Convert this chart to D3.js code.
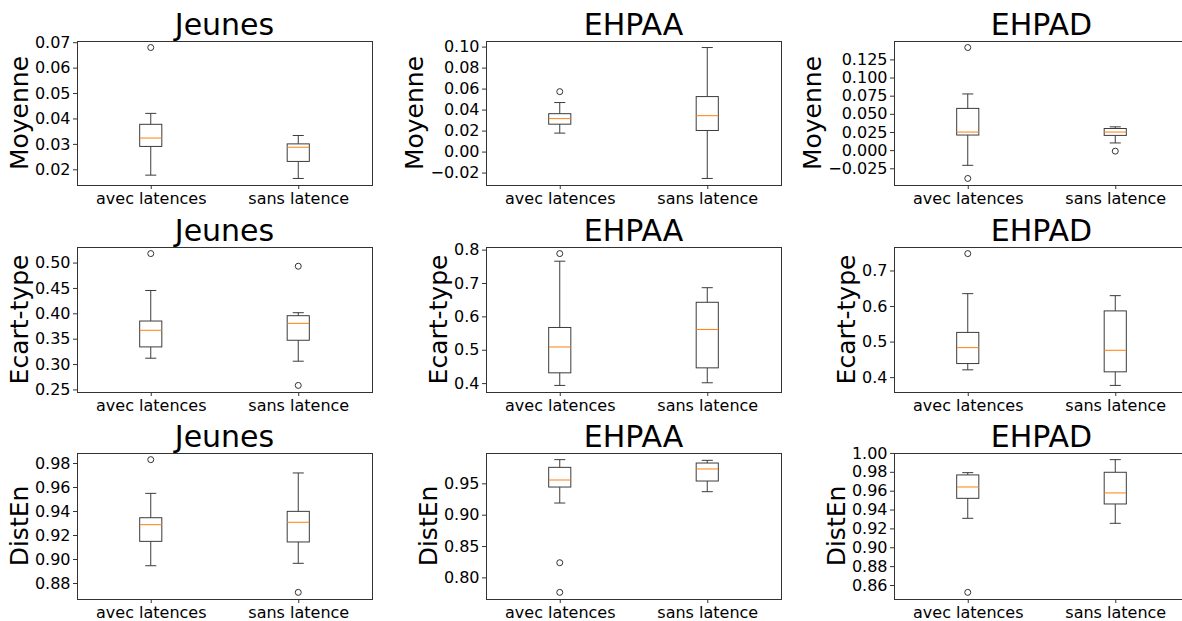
<!DOCTYPE html>
<html>
<head>
<meta charset="utf-8">
<script src="https://cdn.jsdelivr.net/npm/d3@7"></script>
<style>
  html, body { margin: 0; padding: 0; background: #fff; overflow: hidden; }
  svg { display: block; font-family: "DejaVu Sans", sans-serif; }
</style>
</head>
<body>
<svg id="chart" width="1182" height="621"></svg>
<script>
// ---------- data ----------
const groups = ["Jeunes", "EHPAA", "EHPAD"];
const metrics = ["Moyenne", "Ecart-type", "DistEn"];
const categories = ["avec latences", "sans latence"];

// each box: [lower whisker, Q1, median, Q3, upper whisker]
const moyenneJeunes = [[0.0177, 0.0290, 0.0323, 0.0377, 0.0420], [0.0164, 0.0231, 0.0287, 0.0300, 0.0333]];
const moyenneJeunesFliers = [[0.0679], []];
const moyenneEHPAA = [[0.0176, 0.0261, 0.0314, 0.0361, 0.0467], [-0.0256, 0.0201, 0.0342, 0.0524, 0.0991]];
const moyenneEHPAAFliers = [[0.0571], []];
const moyenneEHPAD = [[-0.0209, 0.0208, 0.0249, 0.0575, 0.0774], [0.0099, 0.0203, 0.0249, 0.0298, 0.0321]];
const moyenneEHPADFliers = [[0.1413, -0.0390], [-0.0014]];

const ecartJeunes = [[0.3115, 0.3338, 0.3665, 0.3848, 0.4450], [0.3056, 0.3469, 0.3802, 0.3953, 0.4012]];
const ecartJeunesFliers = [[0.5177], [0.4928, 0.2579]];
const ecartEHPAA = [[0.3931, 0.4308, 0.5082, 0.5667, 0.7653], [0.4010, 0.4457, 0.5608, 0.6422, 0.6859]];
const ecartEHPAAFliers = [[0.7881], []];
const ecartEHPAD = [[0.4205, 0.4382, 0.4829, 0.5258, 0.6348], [0.3767, 0.4149, 0.4755, 0.5863, 0.6292]];
const ecartEHPADFliers = [[0.7475], []];

const distEnJeunes = [[0.8944, 0.9147, 0.9286, 0.9344, 0.9547], [0.8964, 0.9142, 0.9306, 0.9397, 0.9717]];
const distEnJeunesFliers = [[0.9828], [0.8722]];
const distEnEHPAA = [[0.9186, 0.9441, 0.9553, 0.9755, 0.9878], [0.9367, 0.9537, 0.9729, 0.9824, 0.9867]];
const distEnEHPAAFliers = [[0.8234, 0.7761], []];
const distEnEHPAD = [[0.9307, 0.9519, 0.9639, 0.9767, 0.9791], [0.9254, 0.9459, 0.9576, 0.9795, 0.9929]];
const distEnEHPADFliers = [[0.8522], []];

// tick labels
const ticksMoyenneJeunes = ["0.02", "0.03", "0.04", "0.05", "0.06", "0.07"];
const ticksMoyenneEHPAA = ["\u22120.02", "0.00", "0.02", "0.04", "0.06", "0.08", "0.10"];
const ticksMoyenneEHPAD = ["\u22120.025", "0.000", "0.025", "0.050", "0.075", "0.100", "0.125"];
const ticksEcartJeunes = ["0.25", "0.30", "0.35", "0.40", "0.45", "0.50"];
const ticksEcartEHPAA = ["0.4", "0.5", "0.6", "0.7", "0.8"];
const ticksEcartEHPAD = ["0.4", "0.5", "0.6", "0.7"];
const ticksDistEnJeunes = ["0.88", "0.90", "0.92", "0.94", "0.96", "0.98"];
const ticksDistEnEHPAA = ["0.80", "0.85", "0.90", "0.95"];
const ticksDistEnEHPAD = ["0.86", "0.88", "0.90", "0.92", "0.94", "0.96", "0.98", "1.00"];

const panelBoxes = [
  [moyenneJeunes, moyenneEHPAA, moyenneEHPAD],
  [ecartJeunes, ecartEHPAA, ecartEHPAD],
  [distEnJeunes, distEnEHPAA, distEnEHPAD]
];
const panelFliers = [
  [moyenneJeunesFliers, moyenneEHPAAFliers, moyenneEHPADFliers],
  [ecartJeunesFliers, ecartEHPAAFliers, ecartEHPADFliers],
  [distEnJeunesFliers, distEnEHPAAFliers, distEnEHPADFliers]
];
const panelTicks = [
  [ticksMoyenneJeunes, ticksMoyenneEHPAA, ticksMoyenneEHPAD],
  [ticksEcartJeunes, ticksEcartEHPAA, ticksEcartEHPAD],
  [ticksDistEnJeunes, ticksDistEnEHPAA, ticksDistEnEHPAD]
];

// ---------- layout ----------
const colLeft = [77, 486, 894];
const rowTop = [41, 247, 453];
const rowH = [144, 145, 146];
const W = 295;
const lineColor = "#333";
const boxColor = "#3c3c3c";
const medianColor = "#ff7f0e";

const svg = d3.select("#chart");

for (let r = 0; r < 3; r++) {
  for (let c = 0; c < 3; c++) {
    const H = rowH[r];
    const boxes = panelBoxes[r][c];
    const fliers = panelFliers[r][c];
    const tickLabels = panelTicks[r][c];
    const tickVals = tickLabels.map(s => +s.replace("\u2212", "-"));

    const allVals = boxes.flat().concat(fliers.flat());
    const lo = d3.min(allVals), hi = d3.max(allVals);
    const pad = (hi - lo) * 0.05;

    const y = d3.scaleLinear().domain([lo - pad, hi + pad]).range([H, 0]);
    const x = d3.scaleLinear().domain([0.5, 2.5]).range([0, W]);
    const boxW = x(1.15) - x(1);      // matplotlib default width 0.15
    const capW = boxW / 2;

    const g = svg.append("g").attr("transform", `translate(${colLeft[c]},${rowTop[r]})`);

    // y axis
    const yAxis = g.append("g")
      .call(d3.axisLeft(y).tickValues(tickVals).tickFormat((d, i) => tickLabels[i])
        .tickSize(4).tickPadding(2.5));
    yAxis.select(".domain").remove();
    yAxis.selectAll("line").attr("stroke", lineColor);
    yAxis.selectAll("text").attr("font-size", 16).attr("fill", "#000")
      .attr("font-family", "DejaVu Sans, sans-serif");

    // x axis
    const xAxis = g.append("g").attr("transform", `translate(0,${H})`)
      .call(d3.axisBottom(x).tickValues([1, 2]).tickFormat((d, i) => categories[i])
        .tickSize(4).tickPadding(3.6));
    xAxis.select(".domain").remove();
    xAxis.selectAll("line").attr("stroke", lineColor);
    xAxis.selectAll("text").attr("font-size", 16).attr("fill", "#000")
      .attr("font-family", "DejaVu Sans, sans-serif");

    // spines
    g.append("rect").attr("x", 0).attr("y", 0).attr("width", W).attr("height", H)
      .attr("fill", "none").attr("stroke", lineColor).attr("stroke-width", 1)
      .attr("shape-rendering", "crispEdges");

    // boxes
    boxes.forEach((b, i) => {
      const cx = x(i + 1);
      const [wl, q1, med, q3, wh] = b;
      const bg = g.append("g").attr("stroke", boxColor).attr("stroke-width", 1).attr("fill", "none");
      // whiskers
      bg.append("line").attr("x1", cx).attr("x2", cx).attr("y1", y(q3)).attr("y2", y(wh));
      bg.append("line").attr("x1", cx).attr("x2", cx).attr("y1", y(q1)).attr("y2", y(wl));
      // caps
      bg.append("line").attr("x1", cx - capW / 2).attr("x2", cx + capW / 2).attr("y1", y(wh)).attr("y2", y(wh));
      bg.append("line").attr("x1", cx - capW / 2).attr("x2", cx + capW / 2).attr("y1", y(wl)).attr("y2", y(wl));
      // box
      bg.append("rect").attr("x", cx - boxW / 2).attr("y", y(q3))
        .attr("width", boxW).attr("height", y(q1) - y(q3));
      // median
      g.append("line").attr("x1", cx - boxW / 2).attr("x2", cx + boxW / 2)
        .attr("y1", y(med)).attr("y2", y(med))
        .attr("stroke", medianColor).attr("stroke-width", 1);
      // fliers
      g.selectAll(null).data(fliers[i]).enter().append("circle")
        .attr("cx", cx).attr("cy", d => y(d)).attr("r", 3)
        .attr("fill", "none").attr("stroke", lineColor).attr("stroke-width", 1);
    });

    // title
    g.append("text").attr("x", W / 2).attr("y", -6.5)
      .attr("text-anchor", "middle").attr("font-size", 30).attr("fill", "#000")
      .text(groups[c]);

    // y label placed left of tick labels
    let minX = 0;
    yAxis.selectAll("text").each(function () {
      const bb = this.getBBox();
      const tr = this.parentNode.getAttribute("transform");
      minX = Math.min(minX, bb.x);
    });
    g.append("text")
      .attr("transform", `translate(${minX - 7},${H / 2}) rotate(-90)`)
      .attr("text-anchor", "middle").attr("font-size", 25).attr("fill", "#000")
      .text(metrics[r]);
  }
}
</script>
</body>
</html>
